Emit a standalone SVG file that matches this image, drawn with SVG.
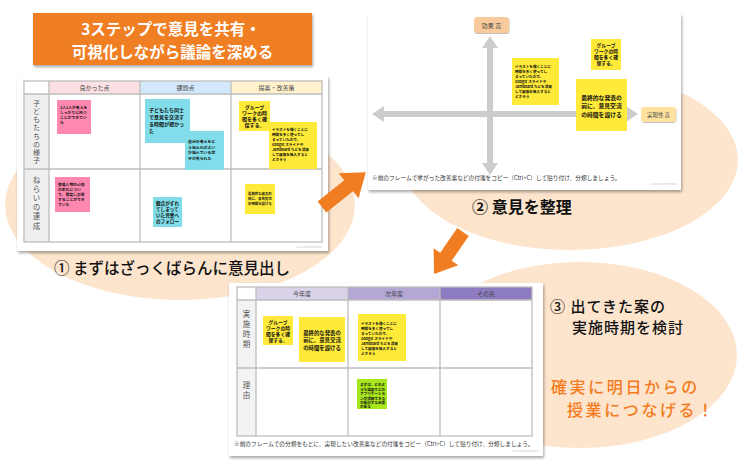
<svg xmlns="http://www.w3.org/2000/svg" width="750" height="465" viewBox="0 0 750 465">
<defs>
<filter id="sh" x="-5%" y="-5%" width="110%" height="115%">
<feDropShadow dx="1" dy="2" stdDeviation="1.5" flood-color="#000" flood-opacity="0.35"/>
</filter>
<filter id="sh2" x="-10%" y="-10%" width="120%" height="130%">
<feDropShadow dx="0.5" dy="1" stdDeviation="0.6" flood-color="#000" flood-opacity="0.25"/>
</filter>
<style>
text{font-family:"Noto Sans CJK JP","Noto Sans",sans-serif}
.card{fill:#fff;filter:url(#sh)}
.grid{fill:none;stroke:#BDBDBD;stroke-width:1.3}
.hd{font-size:6px;fill:#444;text-anchor:middle}
.rl{font-size:7px;fill:#555;writing-mode:vertical-rl}
.st{font-weight:700;fill:#111}
.pk{fill:#FF88B0}
.bl{fill:#80DDE9}
.yl{fill:#FFEA3A}
.gr{fill:#A8E61D}
.note{font-size:5.7px;fill:#333}
.copy{font-size:2.6px;fill:#c8c8c8;text-anchor:end}
.peach{fill:#FCE4CD}
.arr{fill:#F07D22}
.step{fill:#111}
.ax{stroke:#CCCCCC;stroke-width:6}
.axh{fill:#CCCCCC}
</style>
</defs>
<rect width="750" height="465" fill="#fff"/>

<g id="backgrounds">
<ellipse class="peach" cx="180" cy="205" rx="175" ry="95"/>
<ellipse class="peach" cx="570" cy="160" rx="168" ry="90"/>
<ellipse class="peach" cx="580" cy="355" rx="157" ry="93"/>
</g>

<g id="title">
<rect x="33" y="13" width="279" height="52" fill="#F07E22" filter="url(#sh)"/>
<text x="171" y="35.3" font-size="15.5" font-weight="700" fill="#fff" text-anchor="middle">3ステップで意見を共有・</text>
<text x="172.5" y="57.8" font-size="15.5" font-weight="700" fill="#fff" text-anchor="middle">可視化しながら議論を深める</text>
</g>

<g id="panel1">
<rect class="card" x="17" y="76" width="311" height="175"/>
<rect x="24" y="94" width="25" height="148" fill="#EFEFEF"/>
<rect x="49" y="81" width="91" height="13" fill="#FCE0E3"/>
<rect x="140" y="81" width="91" height="13" fill="#D3E8FA"/>
<rect x="231" y="81" width="91" height="13" fill="#FFF2CC"/>
<rect class="grid" x="24" y="81" width="298" height="161"/>
<path class="grid" d="M24 94H322M24 169H322M49 81V242M140 81V242M231 81V242"/>
<text class="hd" x="94.5" y="90">良かった点</text>
<text class="hd" x="185.5" y="90">課題点</text>
<text class="hd" x="276.5" y="90">提案・改善策</text>
<text class="rl" x="36.5" y="100" style="letter-spacing:1.1px">子どもたちの様子</text>
<text class="rl" x="36.5" y="176" style="font-size:7.5px;letter-spacing:1.7px">ねらいの達成</text>
<g id="p1-s1"><rect class="pk" x="57" y="100" width="34" height="34"/>
<text class="st" font-size="3.8"><tspan x="60" y="109">1人1人が考えを</tspan><tspan x="60" y="114">しっかりと持つ</tspan><tspan x="60" y="119">ことができてい</tspan><tspan x="60" y="124">た</tspan></text></g>
<g id="p1-s2"><rect class="pk" x="55" y="177" width="35" height="35"/>
<text class="st" font-size="3.8"><tspan x="58" y="186">登場人物の心情</tspan><tspan x="58" y="191">の変化につい</tspan><tspan x="58" y="196">て、意識し表現</tspan><tspan x="58" y="201">することができ</tspan><tspan x="58" y="206">ていた</tspan></text></g>
<g id="p1-s3"><rect class="bl" x="145" y="99" width="45" height="44"/>
<text class="st" font-size="5"><tspan x="149" y="112">子どもたち同士</tspan><tspan x="149" y="119">で意見を交流す</tspan><tspan x="149" y="126">る時間が短かっ</tspan><tspan x="149" y="133">た</tspan></text></g>
<g id="p1-s4"><rect class="bl" x="185" y="131" width="39" height="39"/>
<text class="st" font-size="3.9"><tspan x="188" y="143">自分の考えをど</tspan><tspan x="188" y="148.5">う伝えればよい</tspan><tspan x="188" y="154">か悩んでいる様</tspan><tspan x="188" y="159.5">子が見られた</tspan></text></g>
<g id="p1-s5"><rect class="bl" x="153" y="197" width="29" height="30"/>
<text class="st" font-size="4.6"><tspan x="156" y="205">観点がずれ</tspan><tspan x="156" y="211">てしまって</tspan><tspan x="156" y="217">いた児童へ</tspan><tspan x="156" y="223">のフォロー</tspan></text></g>
<g id="p1-s6"><rect class="yl" x="239" y="101" width="31" height="30"/>
<text class="st" font-size="5" text-anchor="middle"><tspan x="254.5" y="109">グループ</tspan><tspan x="254.5" y="115">ワークの時</tspan><tspan x="254.5" y="121">間を多く確</tspan><tspan x="254.5" y="127">保する。</tspan></text></g>
<g id="p1-s7"><rect class="yl" x="269" y="122" width="48" height="47"/>
<text class="st" font-size="3.6"><tspan x="272" y="131">イラストを描くことに</tspan><tspan x="272" y="136">時間を多く使ってし</tspan><tspan x="272" y="141">まっていたので、</tspan><tspan x="272" y="146">Google スライドや</tspan><tspan x="272" y="151">Jamboard などを活用</tspan><tspan x="272" y="156">して画像を挿入すると</tspan><tspan x="272" y="161">よさそう</tspan></text></g>
<g id="p1-s8"><rect class="yl" x="245" y="184" width="30" height="30"/>
<text class="st" font-size="3.4"><tspan x="248" y="195">最終的な発表の</tspan><tspan x="248" y="200">前に、意見交流</tspan><tspan x="248" y="205">の時間を設ける</tspan></text></g>
<text class="copy" x="322" y="247.5">© 2020 Shared Smart</text>
</g>

<g id="panel2">
<rect class="card" x="368" y="14" width="313" height="176"/>
<line class="ax" x1="383" y1="114" x2="627" y2="114"/>
<line class="ax" x1="490" y1="47" x2="490" y2="164"/>
<polygon class="axh" points="372,114 384,106 384,122"/>
<polygon class="axh" points="638,114 626,106 626,122"/>
<polygon class="axh" points="490,36 482,48 498,48"/>
<polygon class="axh" points="490,175 482,163 498,163"/>
<g id="p2-y"><rect x="474" y="17" width="35" height="16" rx="3" fill="#F9CB9C" filter="url(#sh2)"/>
<text x="491.5" y="27.5" font-size="6" fill="#444" text-anchor="middle">効果 高</text></g>
<g id="p2-x"><rect x="641" y="107" width="35" height="15" rx="3" fill="#FFE2A0" filter="url(#sh2)"/>
<text x="658.5" y="117" font-size="5.5" fill="#444" text-anchor="middle">実現性 高</text></g>
<g id="p2-s1"><rect class="yl" x="512" y="58" width="47" height="47"/>
<text class="st" font-size="3.6"><tspan x="515" y="68">イラストを描くことに</tspan><tspan x="515" y="73">時間を多く使ってし</tspan><tspan x="515" y="78">まっていたので、</tspan><tspan x="515" y="83">Google スライドや</tspan><tspan x="515" y="88">Jamboard などを活用</tspan><tspan x="515" y="93">して画像を挿入すると</tspan><tspan x="515" y="98">よさそう</tspan></text></g>
<g id="p2-s2"><rect class="yl" x="591" y="39" width="30" height="31"/>
<text class="st" font-size="4.8" text-anchor="middle"><tspan x="606" y="47">グループ</tspan><tspan x="606" y="53">ワークの時</tspan><tspan x="606" y="59">間を多く確</tspan><tspan x="606" y="65">保する。</tspan></text></g>
<g id="p2-s3"><rect class="yl" x="576" y="79" width="51" height="52"/>
<text class="st" font-size="5.8" text-anchor="middle"><tspan x="601.5" y="100">最終的な発表の</tspan><tspan x="601.5" y="108.4">前に、意見交流</tspan><tspan x="601.5" y="116.8">の時間を設ける</tspan></text></g>
<text class="note" x="372" y="180">※前のフレームで挙がった改善案などの付箋をコピー（Ctrl+C）して貼り付け、分類しましょう。</text>
<text class="copy" x="677" y="185">© 2020 Shared Smart</text>
</g>

<g id="panel3">
<rect class="card" x="229" y="283" width="314" height="173"/>
<rect x="237" y="300" width="19" height="136" fill="#F3F3F3"/>
<rect x="256" y="287" width="92" height="13" fill="#D9D2E9"/>
<rect x="348" y="287" width="92" height="13" fill="#B4A7D6"/>
<rect x="440" y="287" width="92" height="13" fill="#8E7CC3"/>
<rect class="grid" x="237" y="287" width="295" height="149"/>
<path class="grid" d="M237 300H532M237 368H532M256 287V436M348 287V436M440 287V436"/>
<text class="hd" x="302" y="296">今年度</text>
<text class="hd" x="394" y="296">次年度</text>
<text class="hd" x="486" y="296">その先</text>
<text class="rl" x="246.5" y="310" style="font-size:7.5px;letter-spacing:2.8px">実施時期</text>
<text class="rl" x="246.5" y="381" style="font-size:7.5px;letter-spacing:2.8px">理由</text>
<g id="p3-s1"><rect class="yl" x="263" y="316" width="30" height="29"/>
<text class="st" font-size="4.8" text-anchor="middle"><tspan x="278" y="324">グループ</tspan><tspan x="278" y="330">ワークの時</tspan><tspan x="278" y="336">間を多く確</tspan><tspan x="278" y="342">保する。</tspan></text></g>
<g id="p3-s2"><rect class="yl" x="299" y="317" width="46" height="45"/>
<text class="st" font-size="5.4" text-anchor="middle"><tspan x="322" y="334.5">最終的な発表の</tspan><tspan x="322" y="342.4">前に、意見交流</tspan><tspan x="322" y="350.3">の時間を設ける</tspan></text></g>
<g id="p3-s3"><rect class="yl" x="358" y="314" width="48" height="47"/>
<text class="st" font-size="3.6"><tspan x="361" y="325">イラストを描くことに</tspan><tspan x="361" y="330">時間を多く使ってし</tspan><tspan x="361" y="335">まっていたので、</tspan><tspan x="361" y="340">Google スライドや</tspan><tspan x="361" y="345">Jamboard などを活用</tspan><tspan x="361" y="350">して画像を挿入すると</tspan><tspan x="361" y="355">よさそう</tspan></text></g>
<g id="p3-s4"><rect class="gr" x="357" y="379" width="30" height="30"/>
<text class="st" font-size="3.6"><tspan x="360" y="386">まずは、どのよ</tspan><tspan x="360" y="390.5">うな場面でどの</tspan><tspan x="360" y="395">アプリケーショ</tspan><tspan x="360" y="399.5">ンが活用できる</tspan><tspan x="360" y="404">か検討する必要</tspan><tspan x="360" y="408.3">がある</tspan></text></g>
<text class="note" x="234" y="446">※前のフレームでの分類をもとに、実現したい改善案などの付箋をコピー（Ctrl+C）して貼り付け、分類しましょう。</text>
<text class="copy" x="538" y="452">© 2020 Shared Smart</text>
</g>

<g id="connectors">
<polygon class="arr" transform="translate(322 207) rotate(-38.5)" points="0,-7 34,-7 34,-16 56,0 34,16 34,7 0,7"/>
<polygon class="arr" transform="translate(463 232) rotate(124.6)" points="0,-7 30,-7 30,-15 51,0 30,15 30,7 0,7"/>
</g>

<g id="step1"><text class="step" x="172" y="274" text-anchor="middle" font-size="15.5" font-weight="500">① まずはざっくばらんに意見出し</text></g>
<g id="step2"><text class="step" x="472" y="213" font-size="16" font-weight="700">② 意見を整理</text></g>
<g id="step3"><text class="step" x="550" y="311.5" font-size="15" font-weight="500" style="letter-spacing:1px">③ 出てきた案の</text>
<text class="step" x="572" y="333.3" font-size="15" font-weight="500" style="letter-spacing:1px">実施時期を検討</text></g>
<g id="goal"><text x="551" y="393" font-size="16" font-weight="500" fill="#F47B20" style="letter-spacing:2.6px">確実に明日からの</text>
<text x="567" y="416.3" font-size="16" font-weight="500" fill="#F47B20" style="letter-spacing:2.6px">授業につなげる！</text></g>
</svg>
